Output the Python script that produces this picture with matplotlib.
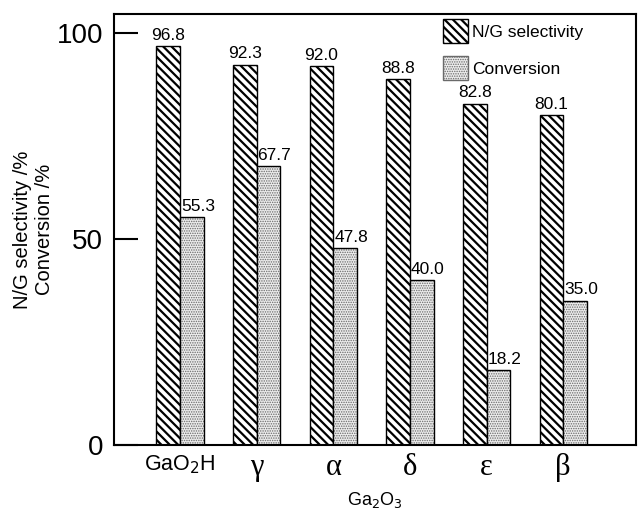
import numpy as np
import matplotlib
matplotlib.use('Agg')
from matplotlib import pyplot as plt

plt.rcParams['font.family'] = ['Liberation Sans', 'DejaVu Sans']

# 数据
catalysts = ['GaO$_2$H', 'γ', 'α', 'δ', 'ε', 'β']
selectivity = [96.8, 92.3, 92.0, 88.8, 82.8, 80.1]
conversion = [55.3, 67.7, 47.8, 40.0, 18.2, 35.0]

fig = plt.figure(figsize=(6.38, 5.16), dpi=100)
ax = fig.add_axes([0.179, 0.138, 0.818, 0.835])

x = np.arange(len(catalysts))
w = 0.31
# hatch 线宽在创建 patch 时读取
plt.rcParams['hatch.linewidth'] = 1.6
b1 = ax.bar(x - w / 2, selectivity, w, facecolor='white', edgecolor='black',
            hatch='\\' * 4, linewidth=1.0, label='N/G selectivity')
plt.rcParams['hatch.linewidth'] = 0.7
b2 = ax.bar(x + w / 2, conversion, w, facecolor='#ececec', edgecolor='#6a6a6a',
            hatch='.' * 7, linewidth=0, label='Conversion')
ax.bar(x + w / 2, conversion, w, fill=False, edgecolor='black', linewidth=1.0)

# 数值标注
for xi, v in zip(x - w / 2, selectivity):
    ax.text(xi, v + 0.8, '%.1f' % v, ha='center', va='bottom', fontsize=12.5)
for xi, v in zip(x, conversion):
    ax.text(xi + 0.01, v + 0.8, '%.1f' % v, ha='left', va='bottom', fontsize=12.5)

ax.set_xlim(-0.86, len(catalysts) - 1 + 0.95)
ax.set_ylim(0, 104.6)
ax.set_yticks([0, 50, 100])
ax.tick_params(axis='y', direction='in', length=17, width=1.5, labelsize=20, pad=8)
ax.set_xticks(x)
ax.set_xticklabels(catalysts)
for i, lab in enumerate(ax.get_xticklabels()):
    if i == 0:
        lab.set_fontsize(15.5)
    else:
        lab.set_family(['Liberation Serif', 'DejaVu Serif'])
        lab.set_fontsize(22)
ax.tick_params(axis='x', length=0, pad=6)

for s in ax.spines.values():
    s.set_linewidth(1.5)

ax.set_xlabel('Ga$_2$O$_3$', fontsize=13, labelpad=6)
ax.set_ylabel('N/G selectivity /%\nConversion /%', fontsize=14.5, labelpad=2)

plt.rcParams['hatch.linewidth'] = 1.6
leg = ax.legend(loc='upper left', bbox_to_anchor=(0.61, 1.012), frameon=False,
                fontsize=12.5, handlelength=1.45, handleheight=1.75,
                handletextpad=0.25, borderaxespad=0.2, labelspacing=0.75)
for h in leg.legend_handles:
    h.set_edgecolor('black')
    h.set_linewidth(1.0)
h2 = leg.legend_handles[1]
h2.set_edgecolor('#6a6a6a')
if hasattr(h2, 'set_hatch_linewidth'):
    h2.set_hatch_linewidth(0.7)
else:
    h2._hatch_linewidth = 0.7

plt.savefig('out.png', dpi=100)
